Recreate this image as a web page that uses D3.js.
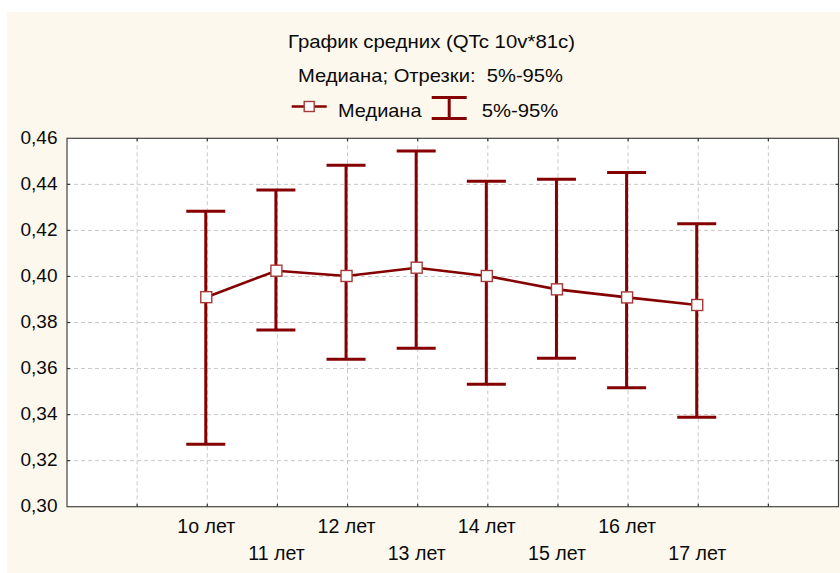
<!DOCTYPE html>
<html>
<head>
<meta charset="utf-8">
<script src="https://cdn.jsdelivr.net/npm/d3@7"></script>
<style>
  body { margin: 0; background: #ffffff; }
  text { font-family: "Liberation Sans", Arial, sans-serif; fill: #0a0a0a; white-space: pre; }
</style>
</head>
<body>
<div id="chart"></div>
<script>
var categories = ["1o лет", "11 лет", "12 лет", "13 лет", "14 лет", "15 лет", "16 лет", "17 лет"];
var medians = [0.3910, 0.4025, 0.4002, 0.4038, 0.4002, 0.3944, 0.3909, 0.3876];
var upper95 = [0.4283, 0.4375, 0.4483, 0.4545, 0.4413, 0.4422, 0.4452, 0.4229];
var lower5 = [0.3271, 0.3767, 0.3640, 0.3688, 0.3532, 0.3645, 0.3517, 0.3388];
var yTickValues = [0.30, 0.32, 0.34, 0.36, 0.38, 0.40, 0.42, 0.44, 0.46];
var yTickLabels = ["0,30", "0,32", "0,34", "0,36", "0,38", "0,40", "0,42", "0,44", "0,46"];
var titleText = "График средних (QTc 10v*81c)";
var subtitleText = "Медиана; Отрезки:  5%-95%";
var legendLabels = ["Медиана", "5%-95%"];

var width = 840, height = 573;
var plotLeft = 67, plotRight = 838.5, plotTop = 138.3, plotBottom = 506.7;
var red = "#850000";
var fontSize = 19;

var svg = d3.select("#chart").append("svg")
  .attr("width", width).attr("height", height);

// cream panel
svg.append("rect")
  .attr("x", 7).attr("y", 12).attr("width", width - 7).attr("height", height - 12)
  .attr("fill", "#fdf8ed");

svg.append("rect")
  .attr("x", plotLeft).attr("y", plotTop).attr("width", plotRight - plotLeft).attr("height", plotBottom - plotTop)
  .attr("fill", "#ffffff");

// 11 slots, categories sit on slots 2..9
var x = d3.scaleLinear().domain([0, categories.length + 3]).range([plotLeft, plotRight]);
var y = d3.scaleLinear().domain([0.30, 0.46]).range([plotBottom, plotTop]);
var slots = d3.range(1, categories.length + 3);

// grid
svg.append("g").selectAll("line")
  .data(yTickValues.slice(1, -1))
  .enter().append("line")
  .attr("x1", plotLeft).attr("x2", plotRight)
  .attr("y1", function(d) { return y(d); }).attr("y2", function(d) { return y(d); })
  .style("stroke", "#c8c8c8").style("stroke-dasharray", "4,3").style("stroke-width", 1);

svg.append("g").selectAll("line")
  .data(slots)
  .enter().append("line")
  .attr("x1", function(d) { return x(d); }).attr("x2", function(d) { return x(d); })
  .attr("y1", plotTop).attr("y2", plotBottom)
  .style("stroke", "#c8c8c8").style("stroke-dasharray", "4,3").style("stroke-width", 1);

// frame + inner ticks
svg.append("rect")
  .attr("x", plotLeft).attr("y", plotTop).attr("width", plotRight - plotLeft).attr("height", plotBottom - plotTop)
  .attr("fill", "none").style("stroke", "#444").style("stroke-width", 1.2);

var ticks = svg.append("g").style("stroke", "#333").style("stroke-width", 1.2);
slots.forEach(function(s) {
  ticks.append("line").attr("x1", x(s)).attr("x2", x(s)).attr("y1", plotBottom).attr("y2", plotBottom - 3);
  ticks.append("line").attr("x1", x(s)).attr("x2", x(s)).attr("y1", plotTop).attr("y2", plotTop + 3);
});
yTickValues.slice(1, -1).forEach(function(v) {
  ticks.append("line").attr("x1", plotLeft).attr("x2", plotLeft + 3).attr("y1", y(v)).attr("y2", y(v));
  ticks.append("line").attr("x1", plotRight).attr("x2", plotRight - 3).attr("y1", y(v)).attr("y2", y(v));
});

// y labels
svg.append("g").selectAll("text")
  .data(yTickValues)
  .enter().append("text")
  .attr("x", 57.5)
  .attr("y", function(d) { return y(d) + 5.2; })
  .attr("text-anchor", "end")
  .style("font-size", fontSize + "px")
  .text(function(d, i) { return yTickLabels[i]; });

// x labels, staggered on two rows
svg.append("g").selectAll("text")
  .data(categories)
  .enter().append("text")
  .attr("x", function(d, i) { return x(i + 2) - 1; })
  .attr("y", function(d, i) { return i % 2 == 0 ? 533.3 : 560; })
  .attr("text-anchor", "middle")
  .style("font-size", "19.6px")
  .text(function(d) { return d; });

// error bars
var bars = svg.append("g").style("stroke", red).style("stroke-width", 3);
categories.forEach(function(c, i) {
  var cx = x(i + 2) - 1.5;
  bars.append("line").attr("x1", cx).attr("x2", cx).attr("y1", y(upper95[i])).attr("y2", y(lower5[i]));
  bars.append("line").attr("x1", cx - 19.5).attr("x2", cx + 19.5).attr("y1", y(upper95[i])).attr("y2", y(upper95[i]));
  bars.append("line").attr("x1", cx - 19.5).attr("x2", cx + 19.5).attr("y1", y(lower5[i])).attr("y2", y(lower5[i]));
});

// median line + markers
var line = d3.line()
  .x(function(d, i) { return x(i + 2) - 1; })
  .y(function(d) { return y(d); });

svg.append("path")
  .datum(medians)
  .attr("d", line)
  .attr("fill", "none")
  .style("stroke", red).style("stroke-width", 2.6);

svg.append("g").selectAll("rect")
  .data(medians)
  .enter().append("rect")
  .attr("x", function(d, i) { return x(i + 2) - 1 - 5.5; })
  .attr("y", function(d) { return y(d) - 5.5; })
  .attr("width", 11).attr("height", 11)
  .attr("fill", "#ffffff")
  .style("stroke", "#a83838").style("stroke-width", 1.4);

// title
svg.append("text")
  .attr("x", 431.5).attr("y", 47.7)
  .attr("text-anchor", "middle")
  .style("font-size", "18.6px")
  .attr("textLength", 287).attr("lengthAdjust", "spacingAndGlyphs")
  .text(titleText);

svg.append("text")
  .attr("x", 430.5).attr("y", 81.7)
  .attr("text-anchor", "middle")
  .style("font-size", fontSize + "px")
  .attr("textLength", 265).attr("lengthAdjust", "spacingAndGlyphs")
  .text(subtitleText);

// legend
var legend = svg.append("g");
legend.append("line")
  .attr("x1", 291.7).attr("x2", 326.7).attr("y1", 106.5).attr("y2", 106.5)
  .style("stroke", red).style("stroke-width", 2.6);
legend.append("rect")
  .attr("x", 304.2).attr("y", 101.5).attr("width", 10).attr("height", 10)
  .attr("fill", "#ffffff").style("stroke", "#a83838").style("stroke-width", 1.4);
legend.append("text")
  .attr("x", 338).attr("y", 116.7)
  .style("font-size", fontSize + "px")
  .attr("textLength", 83.5).attr("lengthAdjust", "spacingAndGlyphs")
  .text(legendLabels[0]);

var lb = legend.append("g").style("stroke", red).style("stroke-width", 3);
lb.append("line").attr("x1", 449.2).attr("x2", 449.2).attr("y1", 97.5).attr("y2", 118.5);
lb.append("line").attr("x1", 431.7).attr("x2", 466.7).attr("y1", 97.5).attr("y2", 97.5);
lb.append("line").attr("x1", 431.7).attr("x2", 466.7).attr("y1", 118.5).attr("y2", 118.5);

legend.append("text")
  .attr("x", 481.7).attr("y", 116.7)
  .style("font-size", fontSize + "px")
  .attr("textLength", 76.6).attr("lengthAdjust", "spacingAndGlyphs")
  .text(legendLabels[1]);
</script>
</body>
</html>
